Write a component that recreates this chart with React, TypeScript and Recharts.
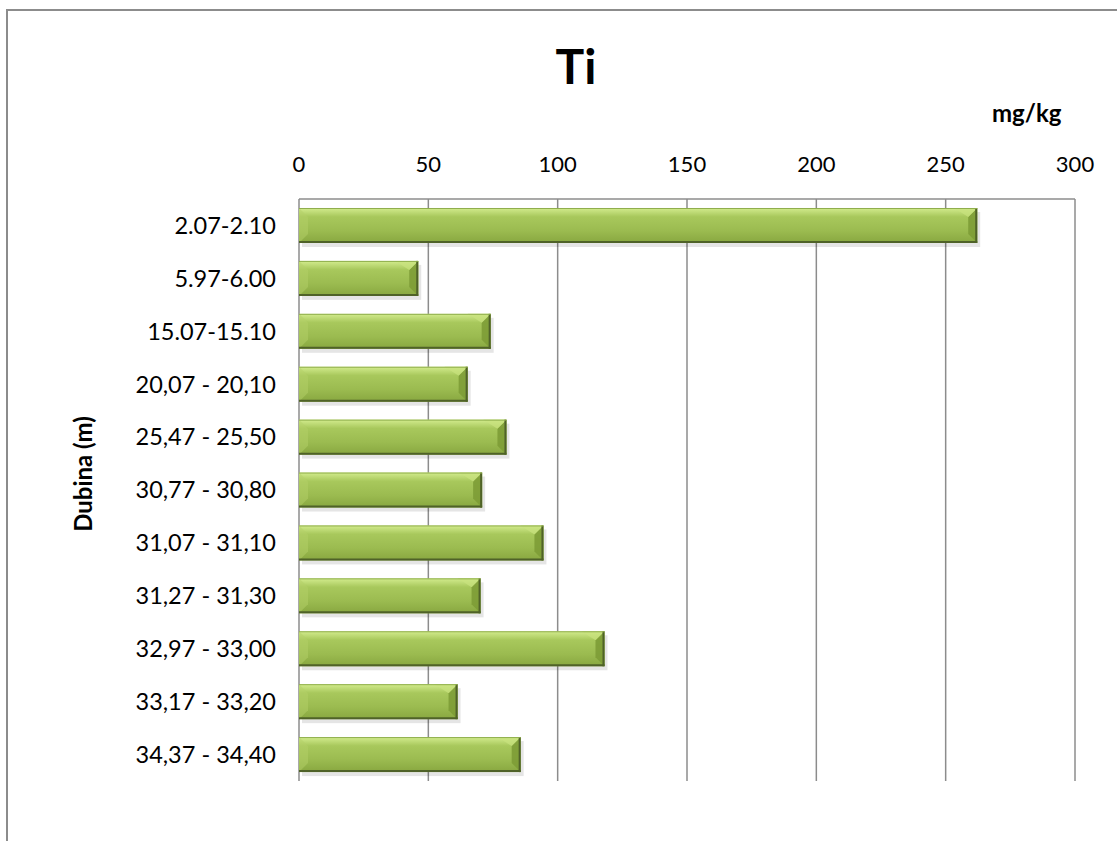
import React from "react";
import { BarChart, Bar, XAxis, YAxis, CartesianGrid, Label } from "recharts";

const depths = [
  "2.07-2.10",
  "5.97-6.00",
  "15.07-15.10",
  "20,07 - 20,10",
  "25,47 - 25,50",
  "30,77 - 30,80",
  "31,07 - 31,10",
  "31,27 - 31,30",
  "32,97 - 33,00",
  "33,17 - 33,20",
  "34,37 - 34,40",
];
const tiValues = [262.2, 46.1, 74.1, 65.2, 80.2, 70.8, 94.5, 70.2, 118.1, 61.3, 85.7];
const xTicks = [0, 50, 100, 150, 200, 250, 300];

const data = depths.map((d, i) => ({ depth: d, ti: tiValues[i] }));

const FONT = "Lato, 'Open Sans', sans-serif";

// bevelled green bar like the Excel style
function BevelBar(props: any) {
  const { x, y, width, height } = props;
  if (!width || width <= 0) return null;
  const b = 9;
  return (
    <g>
      <rect x={x + 3} y={y + 4} width={width} height={height} fill="#000" opacity={0.1} />
      <rect x={x} y={y} width={width} height={height} fill="url(#barGrad)" />
      <polygon
        points={`${x + width - b},${y + b} ${x + width},${y} ${x + width},${y + height} ${x + width - b},${y + height - b}`}
        fill="#7d9c36"
        opacity={0.9}
      />
      <polygon
        points={`${x + width - b},${y + b} ${x + width},${y} ${x + width - b - 14},${y} `}
        fill="#c9e27f"
        opacity={0.7}
      />
      <polygon
        points={`${x},${y} ${x + b},${y + b} ${x + b},${y + height - b} ${x},${y + height}`}
        fill="#b3cf68"
        opacity={0.5}
      />
      <line x1={x} y1={y + height - 1} x2={x + width} y2={y + height - 1} stroke="#4f6228" strokeWidth={2} />
      <line x1={x + width - 1} y1={y} x2={x + width - 1} y2={y + height} stroke="#4f6228" strokeWidth={2} />
      <line x1={x} y1={y + 0.5} x2={x + width} y2={y + 0.5} stroke="#8fae4c" strokeWidth={1} />
    </g>
  );
}

function DepthLabel() {
  return (
    <text
      x={82}
      y={474}
      transform="rotate(-90 82 474)"
      textAnchor="middle"
      dominantBaseline="central"
      style={{ fontWeight: 700, fontSize: 24, fill: "#000", fontFamily: FONT }}
    >
      Dubina (m)
    </text>
  );
}

export default function App() {
  return (
    <div style={{ position: "absolute", left: 0, top: 0, width: 1117, height: 841, overflow: "hidden", background: "#fff", fontFamily: FONT }}>
      <div
        style={{
          position: "absolute",
          left: 6,
          top: 9,
          width: 1200,
          height: 900,
          borderTop: "2px solid #8c8c8c",
          borderLeft: "2px solid #8c8c8c",
        }}
      />
      <div style={{ position: "absolute", left: 0, width: 1152, top: 36, textAlign: "center", fontSize: 48, fontWeight: 700, lineHeight: "60px" }}>
        Ti
      </div>
      <div style={{ position: "absolute", left: 992, top: 98, fontSize: 24, fontWeight: 700, lineHeight: "30px" }}>mg/kg</div>
      <div style={{ position: "absolute", left: 0, top: 0 }}>
        <BarChart
          width={1117}
          height={841}
          data={data}
          layout="vertical"
          margin={{ top: 169, right: 42, bottom: 60, left: 60 }}
          barCategoryGap="17%"
        >
          <defs>
            <linearGradient id="barGrad" x1="0" y1="0" x2="0" y2="1">
              <stop offset="0%" stopColor="#d3ec8e" />
              <stop offset="25%" stopColor="#a8c85c" />
              <stop offset="65%" stopColor="#9bbb50" />
              <stop offset="100%" stopColor="#88a740" />
            </linearGradient>
          </defs>
          <CartesianGrid horizontal={false} stroke="#8c8c8c" strokeWidth={1.5} />
          <XAxis
            type="number"
            orientation="top"
            domain={[0, 300]}
            ticks={xTicks}
            height={30}
            tickLine={false}
            axisLine={{ stroke: "#8c8c8c", strokeWidth: 1.5 }}
            tick={{ fill: "#000", fontSize: 22, fontFamily: FONT }}
            tickMargin={21}
          />
          <YAxis
            type="category"
            dataKey="depth"
            width={239}
            tickLine={false}
            axisLine={false}
            tick={{ fill: "#000", fontSize: 23.5, fontFamily: FONT }}
            tickMargin={17}
          >
            <Label content={<DepthLabel />} />
          </YAxis>
          <Bar dataKey="ti" shape={<BevelBar />} isAnimationActive={false} />
        </BarChart>
      </div>
    </div>
  );
}
